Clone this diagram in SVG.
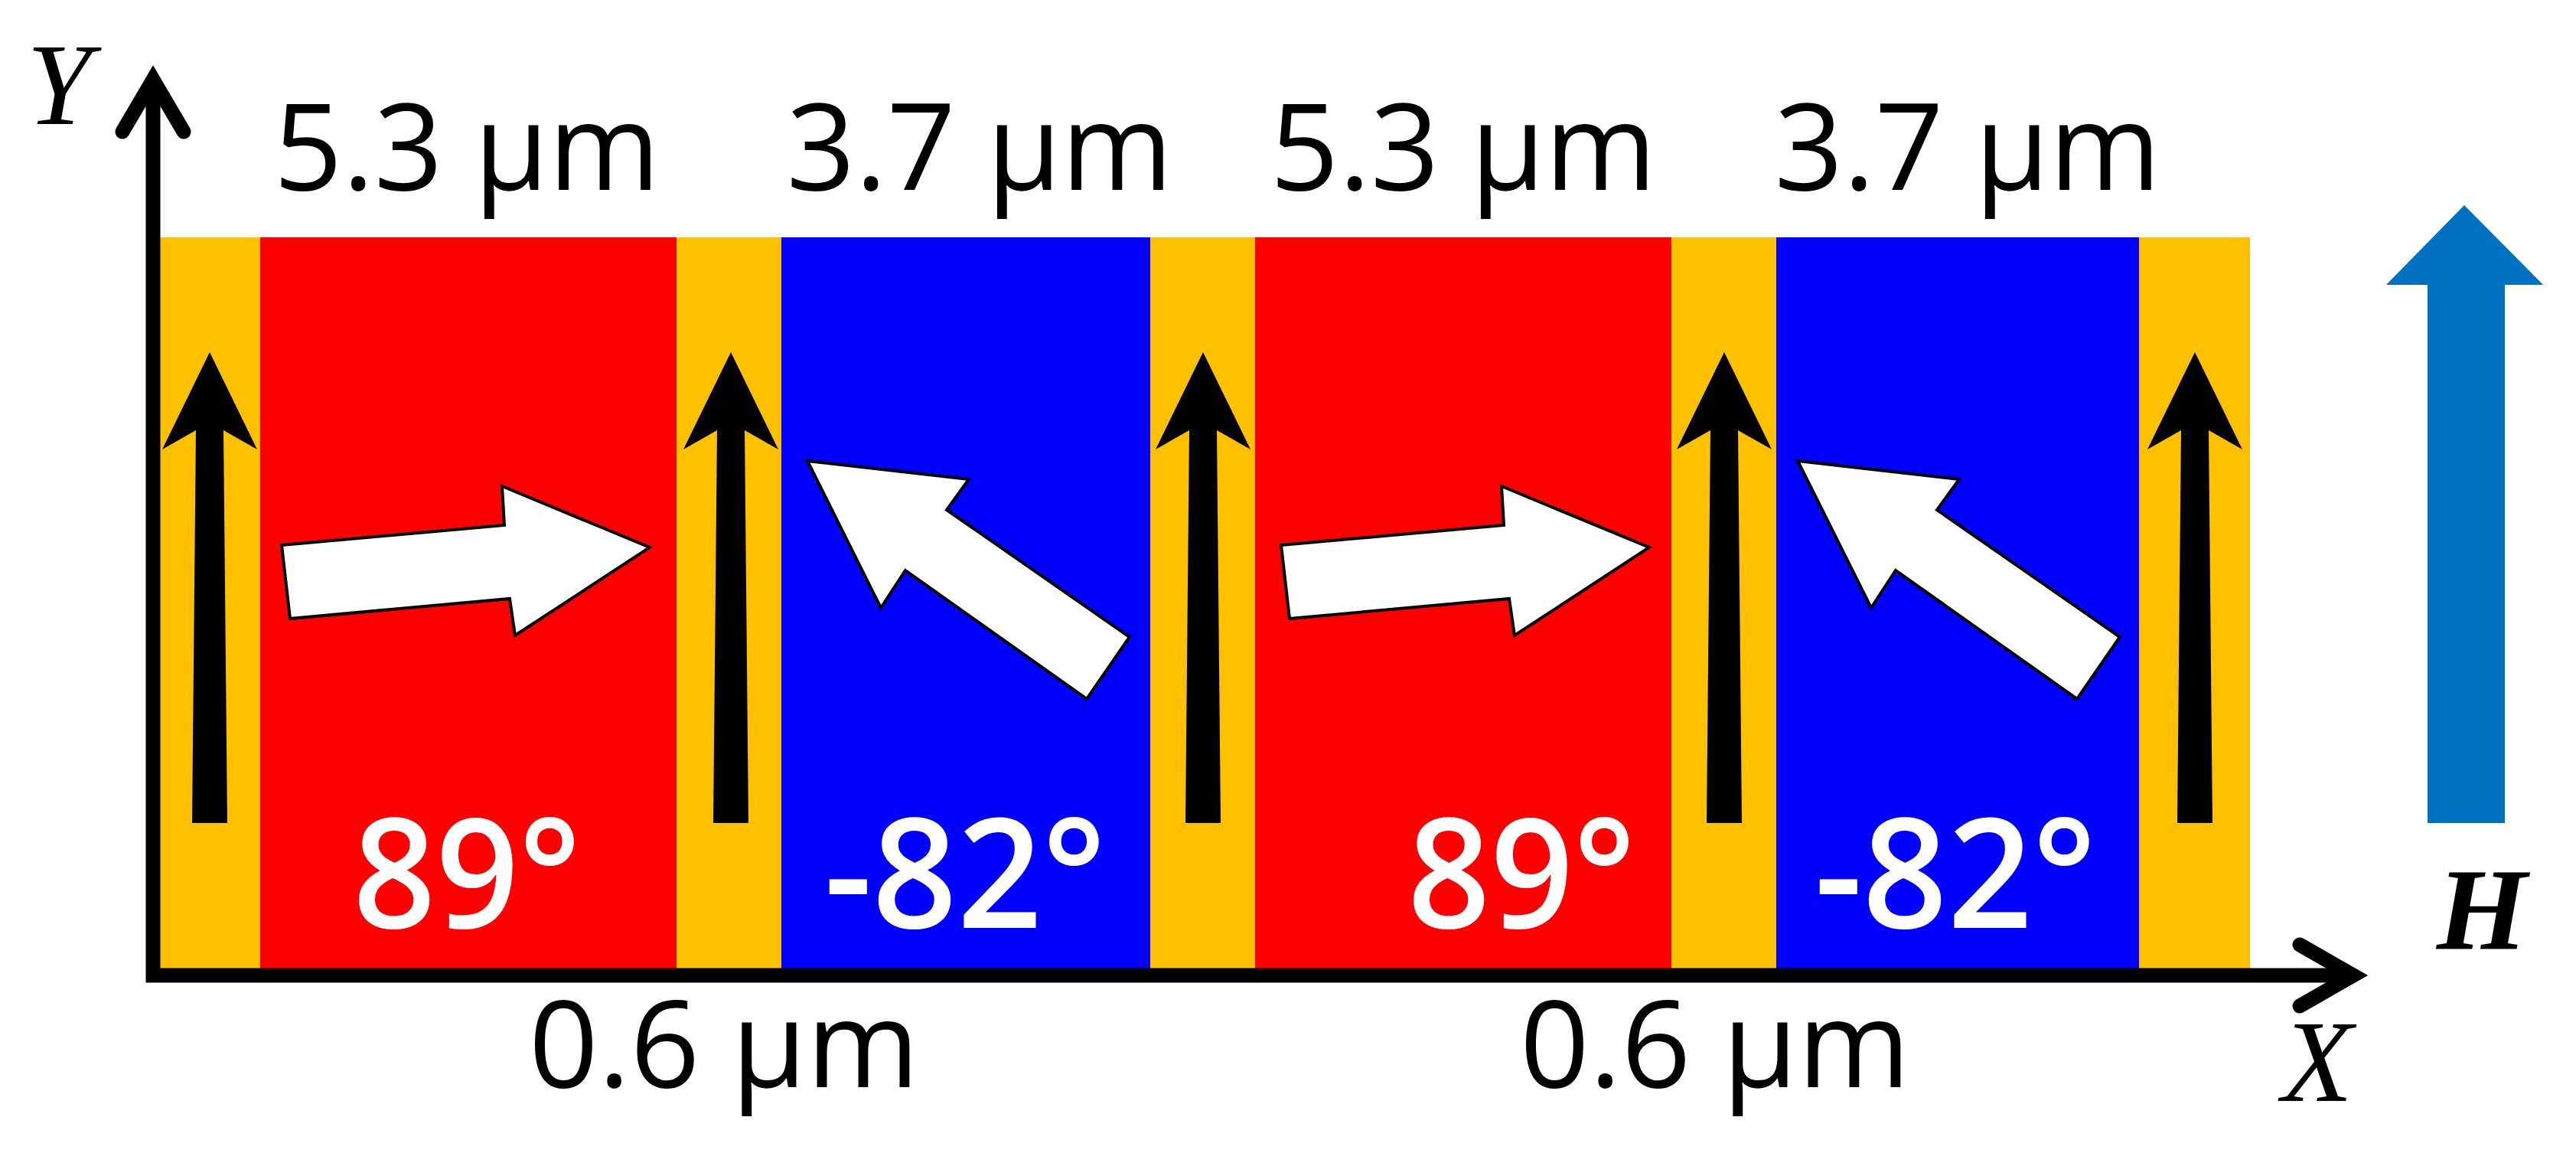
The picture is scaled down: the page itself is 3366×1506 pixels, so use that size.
<svg xmlns="http://www.w3.org/2000/svg" width="3366" height="1506" viewBox="0 0 3366 1506">
<style>
.yel{fill:#FFC000}
.red{fill:#FF0000}
.blu{fill:#0000FF}
.meas{font-family:"Open Sans","Noto Sans",sans-serif;font-size:158px;fill:#000}
.deg{font-family:"Open Sans","Noto Sans",sans-serif;font-weight:600;font-size:200px;fill:#fff}
.axl{font-family:"Liberation Serif","Times New Roman",serif;font-style:italic;font-size:152px;fill:#000}
.warr{fill:#fff;stroke:#000;stroke-width:4;stroke-linejoin:miter}
.barr{fill:#000}
.axis{fill:none;stroke:#000;stroke-width:19;stroke-linecap:round;stroke-linejoin:miter}
</style>
<defs>
<polygon id="blackArrow" points="0,460 62,587 18,562 23,1075 -23,1075 -18,562 -62,587"/>
<polygon id="whiteRight" points="368,712 659,686 656,635 849,715 673,830 666,782 379,808"/>
<polygon id="whiteLeft" points="1055,602 1266,626 1237,666 1476,832 1420,913 1183,745 1151,794"/>
</defs>
<rect width="3366" height="1506" fill="#fff"/>

<g id="strips">
<rect class="yel" x="209" y="310" width="132" height="960"/>
<rect class="red" x="340" y="310" width="545" height="960"/>
<rect class="yel" x="884" y="310" width="138" height="960"/>
<rect class="blu" x="1021" y="310" width="483" height="960"/>
<rect class="yel" x="1503" y="310" width="138" height="960"/>
<rect class="red" x="1640" y="310" width="545" height="960"/>
<rect class="yel" x="2184" y="310" width="138" height="960"/>
<rect class="blu" x="2321" y="310" width="475" height="960"/>
<rect class="yel" x="2795" y="310" width="145" height="960"/>
</g>

<g id="wall-arrows">
<use href="#blackArrow" class="barr" x="274"/>
<use href="#blackArrow" class="barr" x="955"/>
<use href="#blackArrow" class="barr" x="1572"/>
<use href="#blackArrow" class="barr" x="2253"/>
<use href="#blackArrow" class="barr" x="2868"/>
</g>

<g id="domain-arrows">
<use href="#whiteRight" class="warr"/>
<use href="#whiteRight" class="warr" x="1306"/>
<use href="#whiteLeft" class="warr"/>
<use href="#whiteLeft" class="warr" x="1294"/>
</g>

<g id="axes">
<path class="axis" d="M200,108 L200,1274 L3058,1274"/>
<path class="axis" d="M160,172 L200,104 L240,172"/>
<path class="axis" d="M3005,1234 L3075,1274 L3005,1314"/>
</g>

<g id="field">
<polygon fill="#0070C0" points="3220,268 3323,372 3273,372 3273,1075 3172,1075 3172,372 3118,372"/>
<text class="axl" x="3243" y="1239" text-anchor="middle" font-weight="bold" font-size="194">H</text>
</g>

<g id="labels">
<text class="axl" x="77" y="162" text-anchor="middle">Y</text>
<text class="axl" x="3028" y="1438" text-anchor="middle">X</text>
<text class="meas" x="610" y="248" text-anchor="middle" textLength="505" lengthAdjust="spacingAndGlyphs">5.3 µm</text>
<text class="meas" x="1280" y="248" text-anchor="middle" textLength="505" lengthAdjust="spacingAndGlyphs">3.7 µm</text>
<text class="meas" x="1912" y="248" text-anchor="middle" textLength="505" lengthAdjust="spacingAndGlyphs">5.3 µm</text>
<text class="meas" x="2571" y="248" text-anchor="middle" textLength="505" lengthAdjust="spacingAndGlyphs">3.7 µm</text>
<text class="meas" x="946" y="1420" text-anchor="middle" textLength="510" lengthAdjust="spacingAndGlyphs">0.6 µm</text>
<text class="meas" x="2241" y="1420" text-anchor="middle" textLength="510" lengthAdjust="spacingAndGlyphs">0.6 µm</text>
<text class="deg" x="610" y="1212" text-anchor="middle" textLength="298" lengthAdjust="spacingAndGlyphs">89°</text>
<text class="deg" x="1261" y="1212" text-anchor="middle" textLength="368" lengthAdjust="spacingAndGlyphs">-82°</text>
<text class="deg" x="1988" y="1212" text-anchor="middle" textLength="298" lengthAdjust="spacingAndGlyphs">89°</text>
<text class="deg" x="2555" y="1212" text-anchor="middle" textLength="368" lengthAdjust="spacingAndGlyphs">-82°</text>
</g>
</svg>
